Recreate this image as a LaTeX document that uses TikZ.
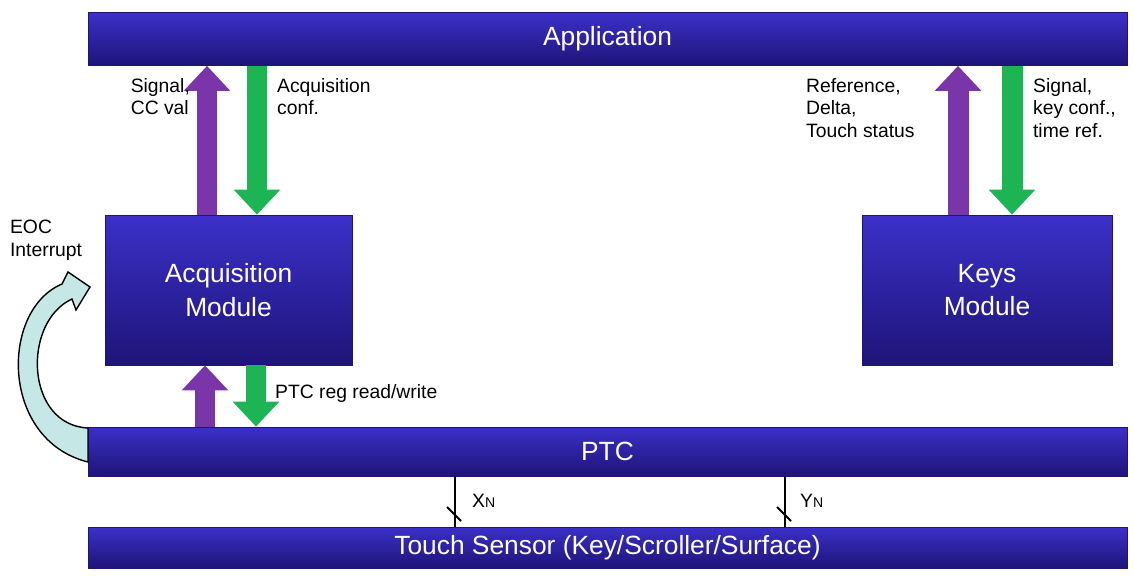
\documentclass[tikz,border=0pt]{standalone}
\usepackage{fontspec}
\setmainfont{Liberation Sans}
\usetikzlibrary{arrows.meta}
\definecolor{barblue}{HTML}{2A1C9C}
\definecolor{bartop}{HTML}{3B30C8}
\definecolor{barbot}{HTML}{1E1478}
\definecolor{upc}{HTML}{7A35A8}
\definecolor{downc}{HTML}{1DB554}
\definecolor{eocc}{HTML}{C5E8E6}
\begin{document}
\begin{tikzpicture}[x=0.02cm,y=-0.02cm,
  bar/.style={draw=barbot,top color=bartop,bottom color=barbot,inner sep=0pt,text=white,font=\fontsize{15}{17}\selectfont},
  modbox/.style={draw=barbot,top color=bartop,bottom color=barbot,inner sep=0pt,text=white,align=center,font=\fontsize{15}{19}\selectfont},
  upar/.style={draw=upc,line width=0.42cm,-{Triangle[width=0.9cm,length=0.5cm]}},
  downar/.style={draw=downc,line width=0.42cm,-{Triangle[width=0.9cm,length=0.5cm]}},
  lab/.style={font=\fontsize{11}{13}\selectfont,align=left,inner sep=1pt},
  wire/.style={line width=1.2pt}]
\useasboundingbox (0,0) rectangle (1134,576);
\node[bar,minimum width=1039*0.02cm,minimum height=53*0.02cm] (app) at (607.5,39) {Application};
\node[bar,minimum width=1039*0.02cm,minimum height=49*0.02cm] (ptc) at (607.5,451.5) {PTC};
\node[bar,minimum width=1039*0.02cm,minimum height=41*0.02cm] (ts) at (607.5,547.5) {Touch Sensor (Key/Scroller/Surface)};
\node[modbox,minimum width=247*0.02cm,minimum height=150*0.02cm] (acq) at (228.5,290) {Acquisition\\Module};
\node[modbox,minimum width=250*0.02cm,minimum height=150*0.02cm] (keys) at (987,290) {Keys\\Module};
% arrows
\draw[upar] (acq.north -| 207,0) -- (app.south -| 207,0);
\draw[downar] (app.south -| 257,0) -- (acq.north -| 257,0);
\draw[upar] (keys.north -| 958,0) -- (app.south -| 958,0);
\draw[downar] (app.south -| 1012,0) -- (keys.north -| 1012,0);
\draw[upar] (ptc.north -| 205,0) -- (acq.south -| 205,0);
\draw[downar] (acq.south -| 256,0) -- (ptc.north -| 256,0);
% labels
\node[lab,anchor=north east] (l1) at (192,76) {Signal,\\CC val};
\node[lab,anchor=north west] (l2) at (275,76) {Acquisition\\conf.};
\node[lab,anchor=north west] (l3) at (804,76) {Reference,\\Delta,\\Touch status};
\node[lab,anchor=north west] (l4) at (1031,76) {Signal,\\key conf.,\\time ref.};
\node[lab,anchor=west] (l5) at (273,393) {PTC reg read/write};
\node[lab,anchor=north west] (eoc) at (8,218) {EOC\\Interrupt};
% EOC arrow
\filldraw[fill=eocc,draw=black,line width=0.8pt]
 (88,462) .. controls (0,440) and (0,310) .. (62,284) -- (68,272) -- (90,287) -- (76,310) -- (72,299)
 .. controls (22,322) and (25,425) .. (88,428) -- cycle;
% wires
\draw[wire] (ptc.south -| 455,0) -- (ts.north -| 455,0);
\draw[wire] (447,507) -- (461,521);
\node[lab,anchor=west] (xn) at (470,501) {X\fontsize{8}{9}\selectfont N};
\draw[wire] (ptc.south -| 785,0) -- (ts.north -| 785,0);
\draw[wire] (777,507) -- (791,521);
\node[lab,anchor=west] (yn) at (798,501) {Y\fontsize{8}{9}\selectfont N};
\end{tikzpicture}
\end{document}
